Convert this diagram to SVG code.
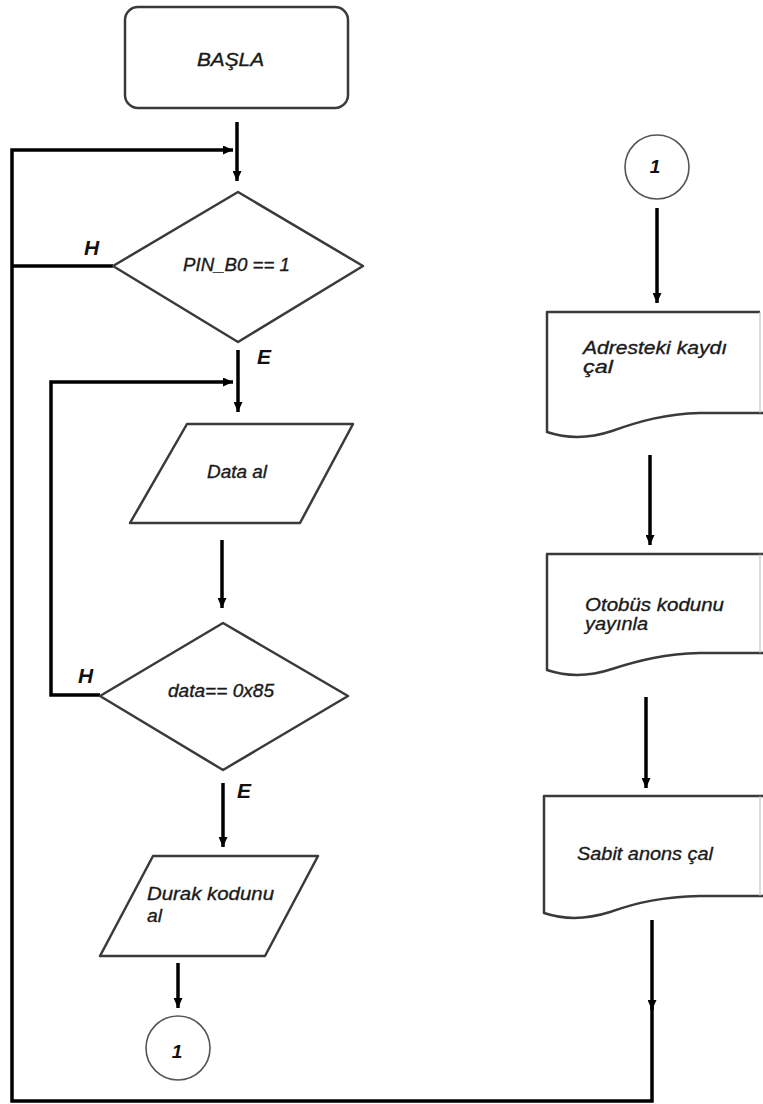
<svg xmlns="http://www.w3.org/2000/svg" width="763" height="1104" viewBox="0 0 763 1104">
  <defs>
    <marker id="arrow" markerUnits="userSpaceOnUse" markerWidth="10" markerHeight="9" refX="10" refY="4.5" orient="auto">
      <path d="M0,0 L10,4.5 L0,9 Z" fill="#000"/>
    </marker>
    <style>
      .shape { fill: #fff; stroke: #3a3a3a; stroke-width: 2.5; stroke-linejoin: round; }
      .conn { fill: none; stroke: #000; stroke-width: 3.5; }
      .txt { font-family: "Liberation Sans", Arial, sans-serif; font-style: italic; font-size: 18px; fill: #1a1a1a; stroke: #1a1a1a; stroke-width: 0.35; }
      .doc { font-size: 19px; }
      .lbl { font-family: "Liberation Sans", Arial, sans-serif; font-style: italic; font-weight: bold; font-size: 21px; fill: #111; }
      .num { font-family: "Liberation Sans", Arial, sans-serif; font-style: italic; font-weight: bold; font-size: 19px; fill: #111; text-anchor: middle; }
      .circ { fill: #fff; stroke: #555; stroke-width: 1.6; }
    </style>
  </defs>
  <rect width="763" height="1104" fill="#fff"/>

  <!-- connectors -->
  <g id="connectors">
    <line class="conn" x1="237" y1="122" x2="237" y2="181" marker-end="url(#arrow)"/>
    <path class="conn" d="M652,920 V1010" marker-end="url(#arrow)"/>
    <path class="conn" d="M652,1004 V1101 H12 V150 H233" marker-end="url(#arrow)"/>
    <path class="conn" d="M113,266 H12"/>
    <line class="conn" x1="238" y1="350" x2="238" y2="412" marker-end="url(#arrow)"/>
    <path class="conn" d="M100,695 H51 V382 H233" marker-end="url(#arrow)"/>
    <line class="conn" x1="222" y1="540" x2="222" y2="608" marker-end="url(#arrow)"/>
    <line class="conn" x1="223" y1="783" x2="223" y2="847" marker-end="url(#arrow)"/>
    <line class="conn" x1="178" y1="963" x2="178" y2="1008" marker-end="url(#arrow)"/>
    <line class="conn" x1="657" y1="208" x2="657" y2="303" marker-end="url(#arrow)"/>
    <line class="conn" x1="650" y1="455" x2="650" y2="545" marker-end="url(#arrow)"/>
    <line class="conn" x1="646" y1="697" x2="646" y2="788" marker-end="url(#arrow)"/>
    <text class="lbl" x="84" y="255">H</text>
    <text class="lbl" x="257" y="364">E</text>
    <text class="lbl" x="78" y="683">H</text>
    <text class="lbl" x="237" y="798">E</text>
  </g>

  <g id="start">
    <rect class="shape" x="125" y="7" width="223" height="101" rx="13"/>
    <text class="txt" x="197" y="66" textLength="67" lengthAdjust="spacingAndGlyphs">BAŞLA</text>
  </g>

  <g id="check-pin">
    <polygon class="shape" points="238,192 363,266 238,342 113,266"/>
    <text class="txt" x="183" y="271" textLength="107" lengthAdjust="spacingAndGlyphs">PIN_B0 == 1</text>
  </g>

  <g id="read-data">
    <polygon class="shape" points="187,424 353,424 300,523 130,523"/>
    <text class="txt" x="207" y="478" textLength="60" lengthAdjust="spacingAndGlyphs">Data al</text>
  </g>

  <g id="check-data">
    <polygon class="shape" points="223,623 348,696 223,770 100,696"/>
    <text class="txt" x="168" y="697" textLength="106" lengthAdjust="spacingAndGlyphs">data== 0x85</text>
  </g>

  <g id="read-stop">
    <polygon class="shape" points="153,856 318,856 265,956 100,956"/>
    <text class="txt doc" x="147" y="900" textLength="127" lengthAdjust="spacingAndGlyphs">Durak kodunu</text>
    <text class="txt doc" x="147" y="922" textLength="15" lengthAdjust="spacingAndGlyphs">al</text>
  </g>

  <g id="connector-out">
    <circle class="circ" cx="178" cy="1048" r="32"/>
    <text class="num" x="177" y="1058">1</text>
  </g>

  <g id="connector-in">
    <circle class="circ" cx="657" cy="167" r="32"/>
    <text class="num" x="655" y="173">1</text>
  </g>

  <g id="play-record">
    <path class="shape" d="M760,312 H547 V432 C565,438 588,439 612,431 C640,421 665,414 700,413 L763,413"/>
    <line x1="760" y1="312" x2="760" y2="413" stroke="#bbb" stroke-width="1"/>
    <text class="txt doc" x="583" y="354" textLength="144" lengthAdjust="spacingAndGlyphs">Adresteki kaydı</text>
    <text class="txt doc" x="583" y="373" textLength="30" lengthAdjust="spacingAndGlyphs">çal</text>
  </g>

  <g id="broadcast-code">
    <path class="shape" d="M763,554 H547 V670 C565,676 588,677 612,669 C640,660 665,654 700,653 L763,653"/>
    <line x1="760" y1="554" x2="760" y2="653" stroke="#bbb" stroke-width="1"/>
    <text class="txt doc" x="585" y="611" textLength="139" lengthAdjust="spacingAndGlyphs">Otobüs kodunu</text>
    <text class="txt doc" x="585" y="630" textLength="63" lengthAdjust="spacingAndGlyphs">yayınla</text>
  </g>

  <g id="fixed-announcement">
    <path class="shape" d="M763,796 H544 V913 C562,919 585,920 610,912 C638,902 663,897 700,896 L763,896"/>
    <line x1="760" y1="796" x2="760" y2="896" stroke="#bbb" stroke-width="1"/>
    <text class="txt doc" x="577" y="860" textLength="136" lengthAdjust="spacingAndGlyphs">Sabit anons çal</text>
  </g>
</svg>
